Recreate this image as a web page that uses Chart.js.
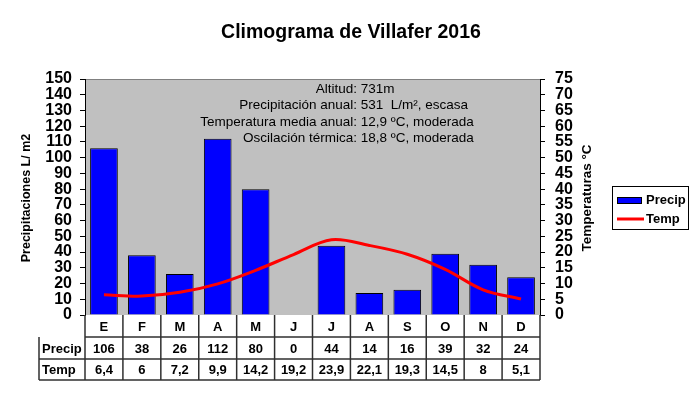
<!DOCTYPE html>
<html>
<head>
<meta charset="utf-8">
<script src="https://cdn.jsdelivr.net/npm/chart.js@4.4.1/dist/chart.umd.min.js"></script>
<style>
  html, body { margin: 0; padding: 0; background: #fff; }
  #wrap { width: 700px; height: 395px; position: relative; }
</style>
</head>
<body>
<div id="wrap"><canvas id="chart"></canvas></div>
<script>
// datos del climograma
const months = ['E', 'F', 'M', 'A', 'M', 'J', 'J', 'A', 'S', 'O', 'N', 'D'];
const precip = [106, 38, 26, 112, 80, 0, 44, 14, 16, 39, 32, 24];
const temp = [6.4, 6, 7.2, 9.9, 14.2, 19.2, 23.9, 22.1, 19.3, 14.5, 8, 5.1];
const noteLabels = ['Altitud:', 'Precipitación anual:', 'Temperatura media anual:', 'Oscilación térmica:'];
const noteValues = ['731m', '531  L/m², escasa', '12,9 ºC, moderada', '18,8 ºC, moderada'];
const rowHeaders = ['Precip', 'Temp'];

const FONT = "Arial, 'Liberation Sans', sans-serif";
Chart.defaults.font.family = FONT;
Chart.defaults.color = '#000';

const fmt = v => String(v).replace('.', ',');

const climoPlugin = {
    id: 'climo',
    beforeDraw(chart) {
        const { ctx, chartArea: a } = chart;
        ctx.save();
        ctx.fillStyle = '#c0c0c0';
        ctx.fillRect(a.left, a.top, a.right - a.left, a.bottom - a.top);
        ctx.strokeStyle = '#808080';
        ctx.lineWidth = 1;
        ctx.beginPath();
        ctx.moveTo(a.left, a.top + 0.5);
        ctx.lineTo(a.right, a.top + 0.5);
        ctx.stroke();
        ctx.restore();
    },
    afterDraw(chart) {
        const { ctx, chartArea: a } = chart;
        const x = chart.scales.x;
        ctx.save();
        ctx.fillStyle = '#000';

        // titulo
        ctx.font = 'bold 19.5px ' + FONT;
        ctx.textAlign = 'center';
        ctx.textBaseline = 'alphabetic';
        ctx.fillText('Climograma de Villafer 2016', 351, 38);

        // titulos de ejes
        ctx.textBaseline = 'middle';
        ctx.font = 'bold 12.5px ' + FONT;
        ctx.save();
        ctx.translate(27, 198);
        ctx.rotate(-Math.PI / 2);
        ctx.fillText('Precipitaciones L/ m2', 0, 0);
        ctx.restore();
        ctx.font = 'bold 13.5px ' + FONT;
        ctx.save();
        ctx.translate(587, 198);
        ctx.rotate(-Math.PI / 2);
        ctx.fillText('Temperaturas °C', 0, 0);
        ctx.restore();

        // notas
        ctx.font = '13.5px ' + FONT;
        const noteY = [89, 105.5, 122, 138];
        noteLabels.forEach((l, i) => {
            ctx.textAlign = 'right';
            ctx.fillText(l, 357, noteY[i]);
            ctx.textAlign = 'left';
            ctx.fillText(' ' + noteValues[i], 357, noteY[i]);
        });

        // tabla
        const step = (a.right - a.left) / months.length;
        const rows = [a.bottom, 337, 359, 380];
        const headLeft = 39;
        ctx.strokeStyle = '#303030';
        ctx.lineWidth = 1.5;
        ctx.beginPath();
        for (let r = 1; r < rows.length; r++) {
            ctx.moveTo(r === 1 ? a.left : headLeft, rows[r]);
            ctx.lineTo(a.right, rows[r]);
        }
        ctx.moveTo(headLeft, rows[1]);
        ctx.lineTo(headLeft, rows[3]);
        for (let i = 0; i <= months.length; i++) {
            const cx = a.left + i * step;
            ctx.moveTo(cx, rows[0]);
            ctx.lineTo(cx, rows[3]);
        }
        ctx.stroke();

        ctx.font = 'bold 13px ' + FONT;
        ctx.textAlign = 'center';
        months.forEach((m, i) => {
            const cx = x.getPixelForValue(i);
            ctx.fillText(m, cx, (rows[0] + rows[1]) / 2 + 1);
            ctx.fillText(fmt(precip[i]), cx, (rows[1] + rows[2]) / 2 + 1);
            ctx.fillText(fmt(temp[i]), cx, (rows[2] + rows[3]) / 2 + 1);
        });
        ctx.textAlign = 'left';
        rowHeaders.forEach((h, r) => {
            ctx.fillText(h, headLeft + 3, (rows[r + 1] + rows[r + 2]) / 2 + 1);
        });

        // leyenda
        const ds = chart.data.datasets;
        ctx.strokeStyle = '#000';
        ctx.lineWidth = 1;
        ctx.strokeRect(612.5, 186.5, 76, 43);
        ctx.fillStyle = ds[1].backgroundColor;
        ctx.fillRect(617, 197, 25, 7);
        ctx.strokeRect(617.5, 197.5, 24, 6);
        ctx.strokeStyle = ds[0].borderColor;
        ctx.lineWidth = 3;
        ctx.beginPath();
        ctx.moveTo(617, 219);
        ctx.lineTo(644, 219);
        ctx.stroke();
        ctx.fillStyle = '#000';
        ctx.font = 'bold 13px ' + FONT;
        ctx.textBaseline = 'middle';
        ctx.fillText(ds[1].label, 646, 200);
        ctx.fillText(ds[0].label, 646, 219);

        ctx.restore();
    }
};

new Chart(document.getElementById('chart'), {
    type: 'bar',
    data: {
        labels: months,
        datasets: [
            {
                type: 'line',
                label: 'Temp',
                data: temp,
                yAxisID: 'y1',
                borderColor: '#ff0000',
                borderWidth: 3,
                pointRadius: 0,
                tension: 0.35,
                order: 0
            },
            {
                type: 'bar',
                label: 'Precip',
                data: precip,
                yAxisID: 'y',
                backgroundColor: '#0000ff',
                borderColor: '#000',
                borderWidth: 1,
                barPercentage: 0.73,
                categoryPercentage: 1,
                order: 1
            }
        ]
    },
    options: {
        responsive: true,
        maintainAspectRatio: false,
        animation: false,
        layout: { padding: { top: 79, bottom: 80, left: 0, right: 100 } },
        plugins: {
            legend: { display: false },
            title: { display: false },
            tooltip: { enabled: false }
        },
        scales: {
            x: { display: false, offset: true },
            y: {
                position: 'left',
                min: 0, max: 150,
                ticks: { stepSize: 10, autoSkip: false, padding: 8, font: { size: 16, weight: 'bold' }, color: '#000' },
                grid: { drawOnChartArea: false, color: '#000', tickLength: 5 },
                border: { color: '#000', width: 1 },
                afterFit: s => { s.width = 85; }
            },
            y1: {
                position: 'right',
                min: 0, max: 75,
                ticks: { stepSize: 5, autoSkip: false, padding: 10, font: { size: 16, weight: 'bold' }, color: '#000' },
                grid: { drawOnChartArea: false, color: '#000', tickLength: 5 },
                border: { color: '#000', width: 1 },
                afterFit: s => { s.width = 60; }
            }
        }
    },
    plugins: [climoPlugin]
});
</script>
</body>
</html>
